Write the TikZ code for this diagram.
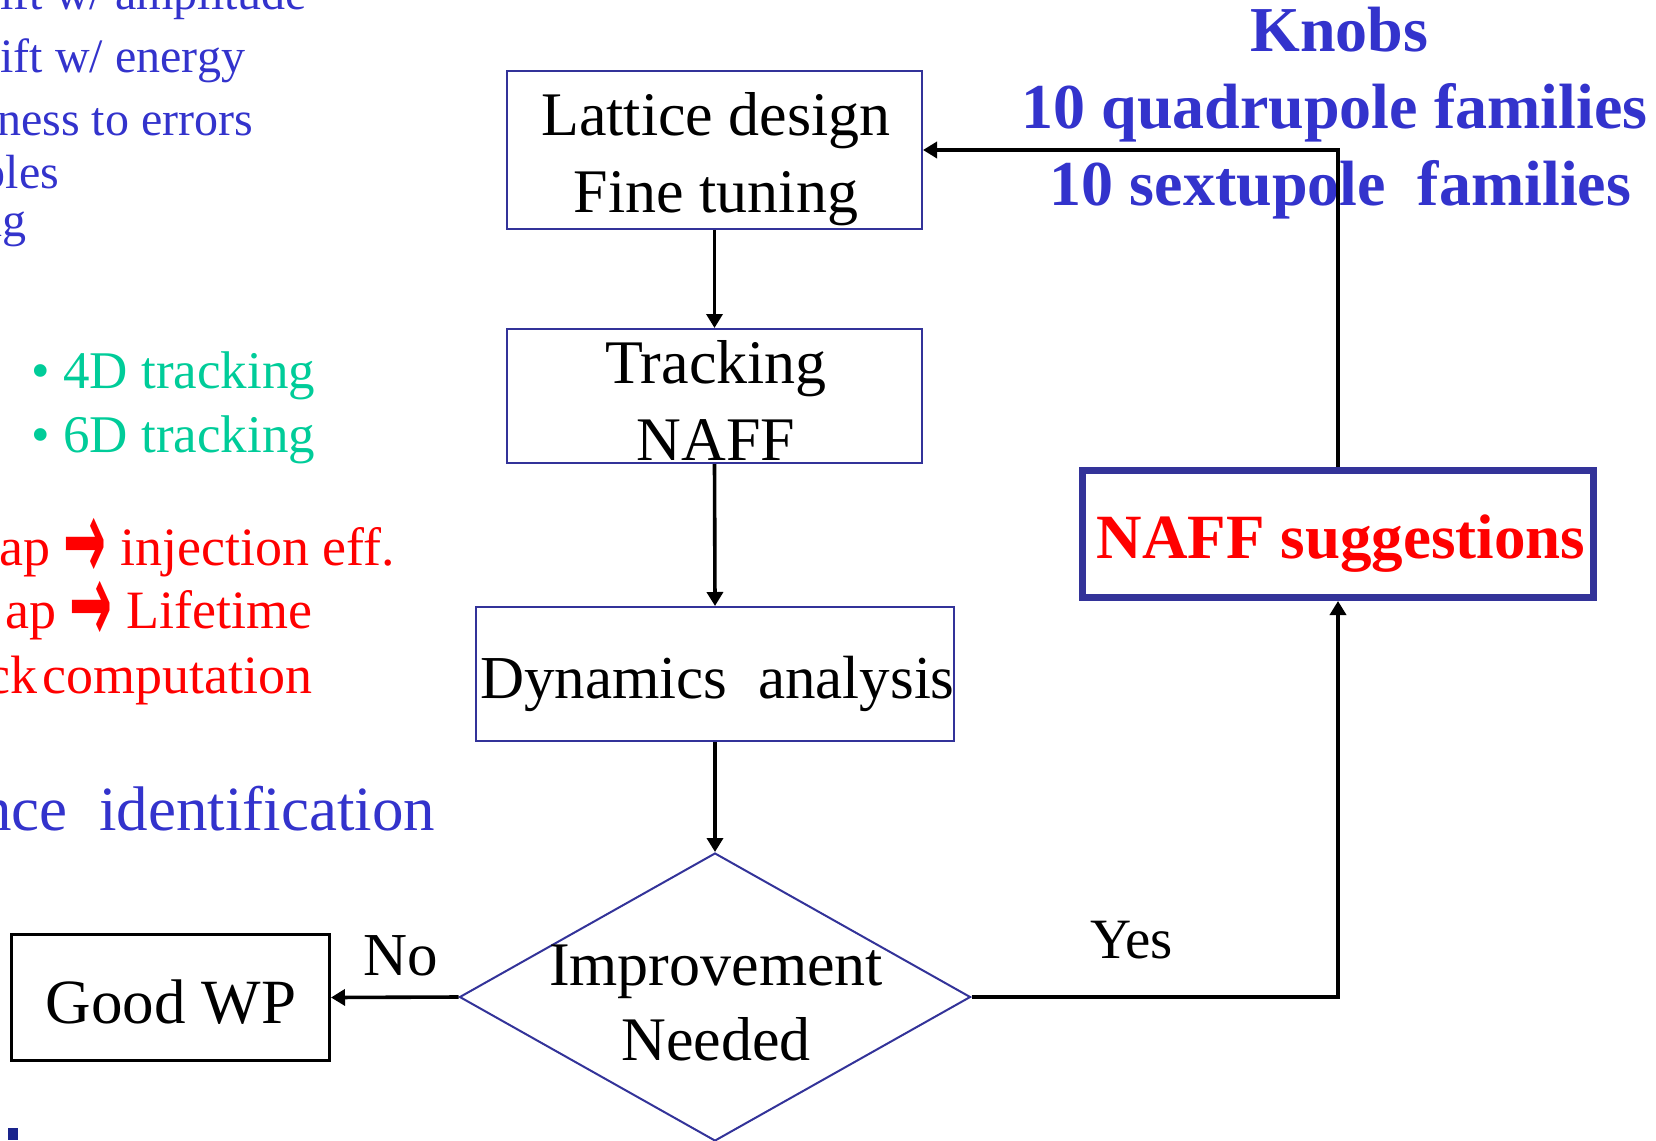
\documentclass[tikz,border=0pt]{standalone}
\usepackage{fontspec}
\setmainfont{Liberation Serif}
\newfontfamily\arrowfont{DejaVu Sans}
\usetikzlibrary{arrows.meta,shapes.geometric}

\definecolor{frameblue}{RGB}{51,51,153}
\definecolor{inkblue}{RGB}{51,51,204}
\definecolor{inkgreen}{RGB}{0,204,153}
\definecolor{inkred}{RGB}{255,0,0}
\definecolor{barblue}{RGB}{26,36,140}

\newcommand{\fsz}[1]{\fontsize{#1pt}{#1pt}\selectfont}
\newcommand{\bigarrow}{{\arrowfont\bfseries\raisebox{-14pt}{\scalebox{0.95}[2.1]{→}}}}

\begin{document}
\begin{tikzpicture}[x=1pt,y=-1pt,
  stepbox/.style={draw=frameblue, line width=2pt, inner sep=0pt},
  wpbox/.style={draw=black, line width=3pt, inner sep=0pt},
  hintbox/.style={draw=frameblue, line width=7pt, inner sep=0pt},
  decision/.style={diamond, draw=frameblue, line width=2pt, inner sep=0pt},
  lbl/.style={anchor=base, inner sep=0pt, outer sep=0pt},
  lble/.style={anchor=base east, inner sep=0pt, outer sep=0pt},
  lblw/.style={anchor=base west, inner sep=0pt, outer sep=0pt},
  flow/.style={draw=black, line width=3.6pt, -{Triangle[length=14pt,width=16pt]}},
]
\useasboundingbox (0,0) rectangle (1656,1140);

% side notes running in from the left margin
\begin{scope}[every node/.append style={text=inkblue, font=\fsz{48}}]
  \node[lble] (n-amp)  at (307,10)  {ift w/ amplitude};
  \node[lble] (n-ene)  at (245,72)  {ift w/ energy};
  \node[lble] (n-err)  at (253,135) {ness to errors};
  \node[lble] (n-ole)  at (59,188)  {oles};
  \node[lble] (n-ng)   at (27,236)  {ng};
\end{scope}
\node[lble, text=inkgreen, font=\fsz{53}] (n-4d) at (315,388) {• 4D tracking};
\node[lble, text=inkgreen, font=\fsz{53}] (n-6d) at (315,452) {• 6D tracking};
\node[lble, text=inkred, font=\fsz{54}] (n-inj) at (395,565) {ap \bigarrow{} injection eff.};
\node[lble, text=inkred, font=\fsz{54}] (n-life) at (312,628) {ap \bigarrow{} Lifetime};
\node[lble, text=inkred, font=\fsz{54}] (n-comp) at (312,693) {ck\hspace{5pt}computation};
\node[lble, text=inkblue, font=\fsz{63}] (n-res) at (435,830) {nce~~identification};
\fill[barblue] (8,1128) rectangle (18,1140);

% knobs
\node[lbl, text=inkblue, font=\bfseries\fsz{64}] (knobs) at (1339.5,52) {Knobs};
\node[lbl, text=inkblue, font=\bfseries\fsz{64}] (knobs-q) at (1334.5,128) {10 quadrupole families};
\node[lbl, text=inkblue, font=\bfseries\fsz{64}] (knobs-s) at (1340.5,205) {10 sextupole~~families};

% flow chart boxes
\node[stepbox, minimum width=415pt, minimum height=158pt] (lattice) at (714.5,150) {};
\node[lbl, font=\fsz{62}] (lattice-a) at (716,135) {Lattice design};
\node[lbl, font=\fsz{62}] (lattice-b) at (716,212) {Fine tuning};

\node[stepbox, minimum width=415pt, minimum height=134pt] (tracking) at (714.5,396) {};
\node[lbl, font=\fsz{62}] (tracking-a) at (716,383) {Tracking};
\node[lbl, font=\fsz{62}] (tracking-b) at (716,460) {NAFF};

\node[stepbox, minimum width=478pt, minimum height=134pt] (dyn) at (715,674) {};
\node[lbl, font=\fsz{61}] (dyn-a) at (717.5,698) {Dynamics~~analysis};

\node[decision, minimum width=511pt, minimum height=288pt] (dec) at (715,997) {};
\node[lbl, font=\fsz{62}] (dec-a) at (716,985) {Improvement};
\node[lbl, font=\fsz{62}] (dec-b) at (716,1060) {Needed};

\node[wpbox, minimum width=318pt, minimum height=126pt] (good) at (170.5,997.5) {};
\node[lbl, font=\fsz{63}] (good-a) at (171,1023) {Good WP};

\node[hintbox, minimum width=511pt, minimum height=127pt] (naff) at (1338,534) {};
\node[lbl, text=inkred, font=\bfseries\fsz{63}] (naff-a) at (1341,558) {NAFF suggestions};

% branch labels
\node[lblw, font=\fsz{61}] (no) at (363,975) {No};
\node[lblw, font=\fsz{57}] (yes) at (1090,958) {Yes};

% connectors
\draw[flow] (lattice.south) -- (tracking.north);
\draw[flow] (tracking.south) -- (dyn.north);
\draw[flow] (dyn.south) -- (dec.north);
\draw[flow] (dec.west) -- (good.east);
\draw[flow] (dec.east) -| (naff.south);
\draw[flow] (naff.north) |- (lattice.east);
\end{tikzpicture}
\end{document}
